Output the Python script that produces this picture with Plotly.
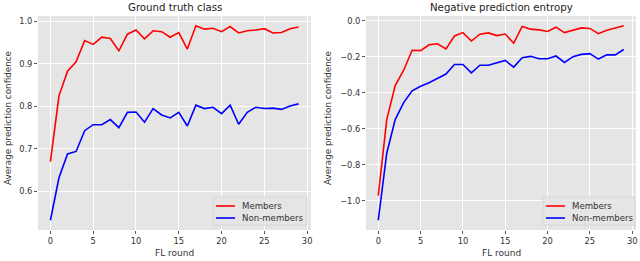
import plotly.graph_objects as go

rounds = list(range(30))

gt_members = [0.670, 0.825, 0.883, 0.905, 0.955, 0.946, 0.963, 0.960, 0.931, 0.970,
              0.980, 0.959, 0.978, 0.976, 0.963, 0.974, 0.935, 0.990, 0.982, 0.984,
              0.976, 0.988, 0.973, 0.978, 0.980, 0.983, 0.973, 0.974, 0.983, 0.987]
gt_nonmembers = [0.532, 0.632, 0.688, 0.694, 0.743, 0.757, 0.757, 0.769, 0.750, 0.786,
                 0.787, 0.763, 0.795, 0.780, 0.773, 0.786, 0.754, 0.803, 0.795, 0.798,
                 0.783, 0.803, 0.758, 0.786, 0.798, 0.795, 0.796, 0.793, 0.801, 0.806]

ent_members = [-0.972, -0.549, -0.360, -0.275, -0.164, -0.166, -0.134, -0.128, -0.157, -0.085,
               -0.066, -0.113, -0.075, -0.068, -0.083, -0.074, -0.125, -0.032, -0.047, -0.051,
               -0.060, -0.036, -0.066, -0.053, -0.040, -0.043, -0.072, -0.053, -0.042, -0.028]
ent_nonmembers = [-1.108, -0.736, -0.549, -0.455, -0.389, -0.364, -0.345, -0.319, -0.296, -0.243,
                  -0.243, -0.290, -0.247, -0.247, -0.236, -0.221, -0.258, -0.206, -0.198, -0.211,
                  -0.211, -0.196, -0.232, -0.200, -0.187, -0.183, -0.213, -0.189, -0.190, -0.160]

titles = ["Ground truth class", "Negative prediction entropy"]
ylabel = "Average prediction confidence"
xlabel = "FL round"
series_names = ["Members", "Non-members"]
colors = ["#ff0000", "#0000ff"]
x_ticks = [0, 5, 10, 15, 20, 25, 30]
y_ticks_left = [0.6, 0.7, 0.8, 0.9, 1.0]
y_ticks_right = [-1.0, -0.8, -0.6, -0.4, -0.2, 0.0]

FONT = "DejaVu Sans"
TXT = "#333333"
BG = "#E5E5E5"
W, H = 640, 261

def px(x):
    return x / W

def py(y):
    return 1 - y / H

fig = go.Figure()
for i, (m, n) in enumerate([(gt_members, gt_nonmembers), (ent_members, ent_nonmembers)]):
    xa = "x" if i == 0 else "x2"
    ya = "y" if i == 0 else "y2"
    for name, vals, c in zip(series_names, [m, n], colors):
        fig.add_trace(go.Scatter(x=rounds, y=vals, mode="lines", name=name,
                                 line=dict(color=c, width=1.6), xaxis=xa, yaxis=ya,
                                 showlegend=False))

axis_common = dict(showgrid=True, gridcolor="white", gridwidth=1, zeroline=False,
                   ticks="outside", ticklen=3, tickcolor="#555555", showline=False,
                   ticklabeloverflow="allow",
                   tickfont=dict(family=FONT, size=8.3, color=TXT))

def yrange(a, b):
    lo = min(min(a), min(b)); hi = max(max(a), max(b)); pad = (hi - lo) * 0.05
    return [lo - pad, hi + pad]

xr = [-1.45, 30.45]
ydom = [py(230), py(16)]
xdom1 = [px(38), px(311)]
xdom2 = [px(366), px(636)]

annotations = []
shapes = []
for k, (dom, title) in enumerate([(xdom1, titles[0]), (xdom2, titles[1])]):
    cx = (dom[0] + dom[1]) / 2
    annotations.append(dict(text=title, x=cx, y=py(7), xref="paper", yref="paper",
                            xanchor="center", yanchor="middle", showarrow=False,
                            font=dict(family=FONT, size=10.2, color="#222222")))
    annotations.append(dict(text=xlabel, x=cx, y=py(253), xref="paper", yref="paper",
                            xanchor="center", yanchor="middle", showarrow=False,
                            font=dict(family=FONT, size=9, color=TXT)))
ylab_x = [8, 328]
for xx in ylab_x:
    annotations.append(dict(text=ylabel, x=px(xx), y=py(118), xref="paper", yref="paper",
                            xanchor="center", yanchor="middle", showarrow=False, textangle=-90,
                            font=dict(family=FONT, size=8.8, color=TXT)))

# legends (box, key lines, labels) in pixel positions
legend_boxes = [(213, 307), (543, 635)]
for (x0, x1) in legend_boxes:
    shapes.append(dict(type="rect", xref="paper", yref="paper", x0=px(x0), x1=px(x1),
                       y0=py(225), y1=py(197), fillcolor="rgba(229,229,229,0.85)",
                       line=dict(color="#d6d6d6", width=1)))
    for j, (name, c) in enumerate(zip(series_names, colors)):
        yy = 206 + j * 12
        shapes.append(dict(type="line", xref="paper", yref="paper", x0=px(x0 + 3),
                           x1=px(x0 + 22), y0=py(yy), y1=py(yy),
                           line=dict(color=c, width=1.6)))
        annotations.append(dict(text=name, x=px(x0 + 27), y=py(yy), xref="paper",
                                yref="paper", xanchor="left", yanchor="middle",
                                showarrow=False,
                                font=dict(family=FONT, size=8.6, color=TXT)))

fig.update_layout(
    width=W, height=H, margin=dict(l=0, r=0, t=0, b=0),
    paper_bgcolor="white", plot_bgcolor=BG,
    font=dict(family=FONT, size=9, color=TXT),
    showlegend=False,
    xaxis=dict(domain=xdom1, range=xr, tickvals=x_ticks, anchor="y", **axis_common),
    yaxis=dict(domain=ydom, range=yrange(gt_members, gt_nonmembers),
               tickvals=y_ticks_left, tickformat=".1f", anchor="x", **axis_common),
    xaxis2=dict(domain=xdom2, range=xr, tickvals=x_ticks, anchor="y2", **axis_common),
    yaxis2=dict(domain=ydom, range=yrange(ent_members, ent_nonmembers),
                tickvals=y_ticks_right, tickformat=".1f", anchor="x2", **axis_common),
    annotations=annotations,
    shapes=shapes,
)

fig.write_html("out.html", config={"displayModeBar": False},
               post_script="document.body.style.margin='0';document.body.style.overflow='hidden';")
